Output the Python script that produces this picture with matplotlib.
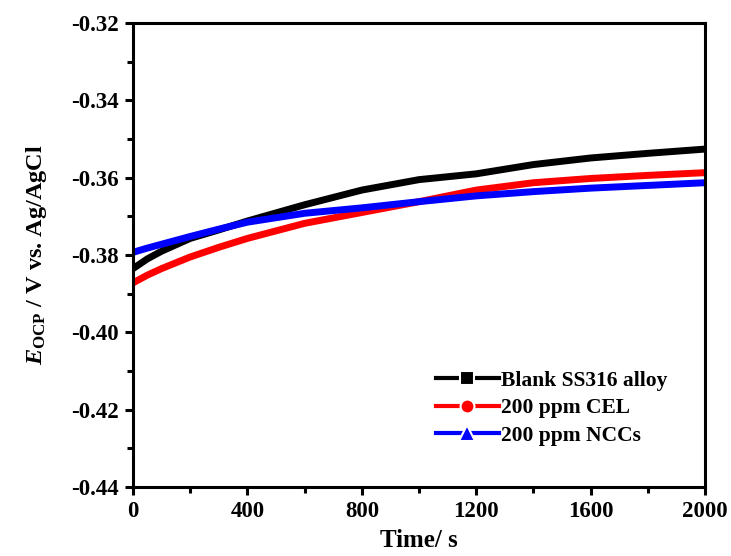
import matplotlib.pyplot as plt
from matplotlib.lines import Line2D
from matplotlib.ticker import MultipleLocator

plt.rcParams['font.family'] = ['Liberation Serif', 'DejaVu Serif']
plt.rcParams['font.weight'] = 'bold'
plt.rcParams['mathtext.fontset'] = 'custom'
plt.rcParams['mathtext.rm'] = 'Liberation Serif:bold'
plt.rcParams['mathtext.it'] = 'Liberation Serif:bold:italic'

time = [0, 50, 100, 200, 300, 400, 600, 800, 1000, 1200, 1400, 1600, 1800, 2000]
blank = [-0.3835, -0.3810, -0.3790, -0.3757, -0.3735, -0.3712, -0.3670, -0.3632, -0.3605,
         -0.3590, -0.3566, -0.3549, -0.3537, -0.3526]
cel = [-0.3872, -0.3852, -0.3835, -0.3805, -0.3780, -0.3757, -0.3718, -0.3690, -0.3662,
       -0.3632, -0.3613, -0.3602, -0.3594, -0.3587]
ncc = [-0.3793, -0.3782, -0.3772, -0.3752, -0.3733, -0.3715, -0.3692, -0.3678, -0.3662,
       -0.3647, -0.3636, -0.3627, -0.3620, -0.3613]
labels = ['Blank SS316 alloy', '200 ppm CEL', '200 ppm NCCs']

fig = plt.figure(figsize=(7.31, 5.56), dpi=100)
ax = fig.add_axes([0.182, 0.124, 0.7825, 0.8346])

ax.plot(time, blank, color='black', lw=5, solid_capstyle='round')
ax.plot(time, cel, color='red', lw=5, solid_capstyle='round')
ax.plot(time, ncc, color='blue', lw=5, solid_capstyle='round')

ax.set_xlim(0, 2000)
ax.set_ylim(-0.44, -0.32)
ax.xaxis.set_major_locator(MultipleLocator(400))
ax.xaxis.set_minor_locator(MultipleLocator(200))
ax.yaxis.set_major_locator(MultipleLocator(0.02))
ax.yaxis.set_minor_locator(MultipleLocator(0.01))
ax.yaxis.set_major_formatter(plt.FuncFormatter(lambda v, p: f'{v:.2f}'))

for s in ax.spines.values():
    s.set_linewidth(2.2)
ax.tick_params(which='major', direction='out', length=6, width=2.2, labelsize=16.5, pad=4)
ax.tick_params(which='minor', direction='out', length=4, width=2.2)

ax.set_xlabel('Time/ s', fontsize=18, fontweight='bold', labelpad=5)
ax.set_ylabel(r'$E_{\rm OCP}$ / V vs. Ag/AgCl', fontsize=17.5, fontweight='bold', labelpad=16)

handles = [
    Line2D([], [], color='black', lw=3, marker='s', markersize=10, markeredgecolor='white', markeredgewidth=1.5),
    Line2D([], [], color='red', lw=3, marker='o', markersize=10, markeredgecolor='white', markeredgewidth=1.5),
    Line2D([], [], color='blue', lw=3, marker='^', markersize=11, markeredgecolor='white', markeredgewidth=1.5),
]
ax.legend(handles, labels, loc='lower left', bbox_to_anchor=(0.515, 0.07), borderaxespad=0,
          frameon=False, fontsize=15.5, handlelength=2.9, handletextpad=0.1, labelspacing=0.35)

fig.savefig('out.png', dpi=100)
